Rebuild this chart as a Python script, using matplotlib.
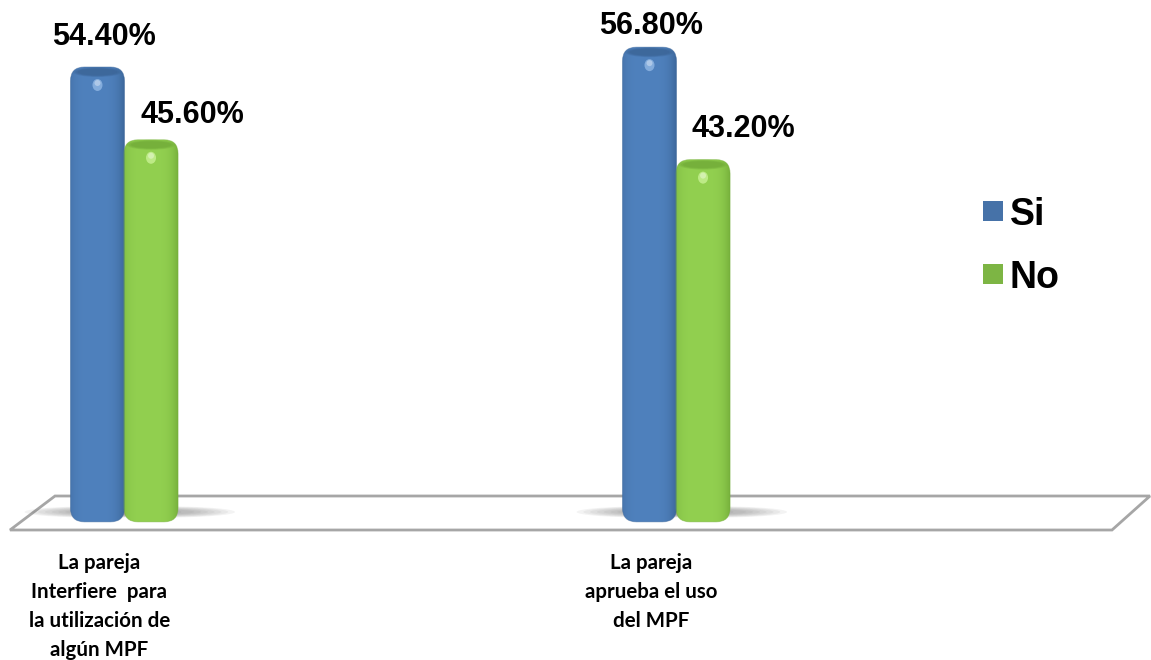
import numpy as np
import matplotlib
matplotlib.use("Agg")
import matplotlib.pyplot as plt
from matplotlib.patches import FancyBboxPatch, Ellipse, Polygon, Rectangle
from matplotlib.colors import to_rgb

# --- data -------------------------------------------------------------
categories = ["La pareja\nInterfiere  para\nla utilización de\nalgún MPF",
              "La pareja\naprueba el uso\ndel MPF"]
series_names = ["Si", "No"]
si_values = [54.40, 56.80]
no_values = [45.60, 43.20]

# --- figure -----------------------------------------------------------
W, H, DPI = 1151, 660, 100
fig = plt.figure(figsize=(W / DPI, H / DPI), dpi=DPI)
fig.patch.set_facecolor("white")
ax = fig.add_axes([0, 0, 1, 1])
ax.set_xlim(-0.2246, 1.8605)
ax.set_ylim(-17.3, 62.5)
ax.axis("off")

def fpx(x, y):
    """pixel (from top-left) -> figure fraction"""
    return (x / W, 1 - y / H)

# floor of the 3-D plot
floor = Polygon([fpx(55, 496), fpx(1150, 496), fpx(1112, 530), fpx(10, 530)],
                closed=True, transform=fig.transFigure, facecolor="white",
                edgecolor="#A6A6A6", lw=2.0, zorder=0)
fig.add_artist(floor)

bar_w = 0.098
offsets = [-0.048, 0.049]
colors = {"Si": ("#4F81BD", "#3C6699", "#8DB4E2"),
          "No": ("#92D050", "#74AE3A", "#C6F090")}
legend_colors = {"Si": "#4672A8", "No": "#7DB544"}

def shade(base, dark, n=64):
    b = np.array(to_rgb(base)); d = np.array(to_rgb(dark))
    t = np.linspace(0, 1, n)
    # cylinder-like profile: darker rims, flat face
    prof = np.clip(1 - np.abs((t - 0.45) / 0.55) ** 4, 0, 1)
    cols = d[None, :] + (b - d)[None, :] * prof[:, None]
    return cols[None, :, :]

y_per_px = 1 / 8.27
x_per_px = 1 / 552

for vals, name in [(si_values, "Si"), (no_values, "No")]:
    off = offsets[series_names.index(name)]
    base, dark, light = colors[name]
    for i, v in enumerate(vals):
        xc = i + off
        x0 = xc - bar_w / 2
        # floor shadow
        for k in range(7):
            ax.add_patch(Ellipse((xc + 0.01, 0.6), bar_w * (2.9 - 0.25 * k),
                                 1.4 - 0.12 * k, facecolor="#606060",
                                 alpha=0.07, lw=0, zorder=1))
        rs = 14 * x_per_px
        patch = FancyBboxPatch((x0, -0.6), bar_w, v + 0.6,
                               boxstyle=f"round,pad=0,rounding_size={rs}",
                               mutation_aspect=(y_per_px / x_per_px),
                               facecolor="none", edgecolor="none", zorder=2)
        ax.add_patch(patch)
        img = ax.imshow(shade(base, dark), extent=(x0, x0 + bar_w, -0.6, v),
                        aspect="auto", zorder=2, interpolation="bilinear")
        img.set_clip_path(patch)
        # thin darker outline
        ax.add_patch(FancyBboxPatch((x0, -0.6), bar_w, v + 0.6,
                                    boxstyle=f"round,pad=0,rounding_size={rs}",
                                    mutation_aspect=(y_per_px / x_per_px),
                                    facecolor="none", edgecolor=dark, lw=0.6,
                                    alpha=0.5, zorder=3))
        # top opening of the cylinder
        for k, a in enumerate([0.35, 0.5, 0.7]):
            ax.add_patch(Ellipse((xc, v - 5 * y_per_px),
                                 bar_w * (0.9 - 0.08 * k), (10 - 1.5 * k) * y_per_px,
                                 facecolor=dark, edgecolor="none", alpha=a, zorder=4))
        # small highlight
        ax.add_patch(Ellipse((xc, v - 18 * y_per_px), 10 * x_per_px, 12 * y_per_px,
                             facecolor=light, edgecolor="none", alpha=0.85, zorder=4))
        ax.add_patch(Ellipse((xc, v - 16 * y_per_px), 6 * x_per_px, 6 * y_per_px,
                             facecolor="white", edgecolor="none", alpha=0.35, zorder=4))

# value labels
label_off = {"Si": [(6.5, 22), (2, 13)], "No": [(41, 17), (40, 23)]}
for vals, name in [(si_values, "Si"), (no_values, "No")]:
    off = offsets[series_names.index(name)]
    for i, v in enumerate(vals):
        dx, dy = label_off[name][i]
        ax.annotate(f"{v:.2f}%", (i + off, v), xytext=(dx * 0.72, dy * 0.72),
                    textcoords="offset points", ha="center", va="baseline",
                    fontsize=22, fontweight="bold", family="Liberation Sans",
                    color="black", zorder=5)

# category labels
for i, cat in enumerate(categories):
    ax.text(i - 0.045, -4.4, cat, ha="center", va="top", fontsize=14.8,
            fontweight="bold", family="Lato", linespacing=1.55, color="black")

# legend
for j, name in enumerate(series_names):
    fig.add_artist(Rectangle(fpx(983, 221 + j * 63), 20 / W, 20 / H,
                             transform=fig.transFigure,
                             facecolor=legend_colors[name], edgecolor="none"))
    fig.text(1010 / W, 1 - (225 + j * 63) / H, name, ha="left", va="baseline",
             fontsize=27, fontweight="bold", family="Liberation Sans")

fig.savefig("out.png", dpi=DPI, facecolor="white")
